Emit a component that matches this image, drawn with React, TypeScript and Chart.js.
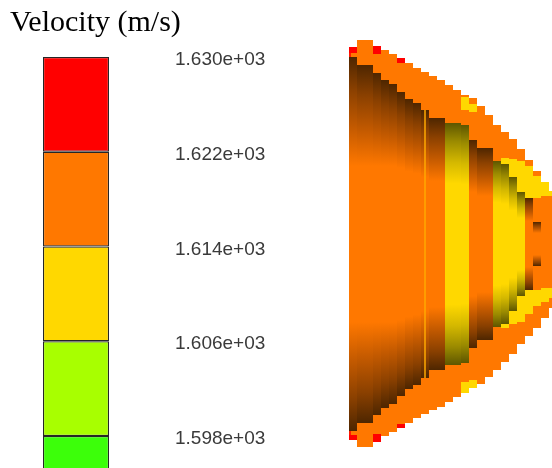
import React, { useEffect, useRef } from 'react';
import { Chart, registerables } from 'chart.js';

Chart.register(...registerables);

// ---------- Legend (colour bar) ----------
const legendTitle = 'Velocity (m/s)';
const levelValues = [1598, 1606, 1614, 1622, 1630];
const levelLabels = ['1.598e+03', '1.606e+03', '1.614e+03', '1.622e+03', '1.630e+03'];
const bandRanges: [number, number][] = [
  [1590, 1598],
  [1598, 1606],
  [1606, 1614],
  [1614, 1622],
  [1622, 1630],
];
const bandColors = ['#3cff0a', '#a8ff00', '#ffd800', '#ff7800', '#ff0000'];
const scaleMin = 1595.3;
const scaleMax = 1630;

// ---------- Contour (dome) : one entry per mesh column, half-heights from the axis ----------
const outerTop = [197, 204, 204, 198, 194, 190, 186, 181, 176, 172, 168, 164, 159, 154, 149, 146, 138, 129, 119, 112, 105, 95, 84, 73, 62, 53];
const outerBottom = [196, 203, 203, 198, 192, 188, 184, 179, 174, 170, 166, 163, 158, 153, 148, 144, 140, 133, 126, 118, 110, 100, 92, 84, 74, 64];
const coreHalf: (number | null)[] = [187, 179, 179, 171, 164, 160, 152, 145, 141, 134, 126, 126, 121, 121, 119, 104, 96, 96, 83, 80, 67, 52, 46, 22, null, null];
const coreKind = ['o', 'o', 'o', 'o', 'o', 'o', 'o', 'o', 'o', 'o', 'o', 'o', 'y', 'y', 'y', 'o', 'o', 'o', 'y', 'y', 'y', 'y', 'o', 'o', '', ''];
const yellowTop: ([number, number] | null)[] = [
  null, null, null, null, null, null, null, null, null, null, null, null, null, null,
  [134, 147], [132, 140], null, null, null, [80, 86], [67, 85], [52, 83], [46, 78], [46, 68], [48, 62], [48, 53],
];
const yellowBottom: ([number, number] | null)[] = [
  null, null, null, null, null, null, null, null, null, null, null, null, null, null,
  [-149, -138], [-144, -136], null, null, null, [-84, -80], [-80, -67], [-78, -52], [-70, -46], [-62, -46], [-58, -44], [-54, -44],
];
const redTop: ([number, number] | null)[] = [
  [191, 197], null, null, [190, 198], null, null, [181, 186], null, null, null, null, null, null,
  null, null, null, null, null, null, null, null, null, null, null, null, null,
];
const redBottom: ([number, number] | null)[] = [
  [-196, -191], null, null, [-198, -190], null, null, [-184, -180], null, null, null, null, null, null,
  null, null, null, null, null, null, null, null, null, null, null, null, null,
];
const seamColumn = 9;

const ORANGE = '#ff7800';
const orangeShade = ['#4e2600', '#8a4000', '#c45a00', ORANGE];
const yellowShade = ['#5e5600', '#9a8a00', '#d4b800', '#ffd800'];

export default function App() {
  const legendRef = useRef<HTMLCanvasElement>(null);
  const domeRef = useRef<HTMLCanvasElement>(null);

  useEffect(() => {
    const legendChart = new Chart(legendRef.current!, {
      type: 'bar',
      data: {
        labels: [''],
        datasets: bandRanges.map((r, i) => ({
          label: levelLabels[i],
          data: [r],
          backgroundColor: bandColors[i],
          borderColor: '#262626',
          borderWidth: 1.2,
          borderSkipped: false,
          barThickness: 66,
          inflateAmount: 0,
        })) as any,
      },
      options: {
        animation: false,
        responsive: false,
        events: [],
        layout: { padding: { left: 10, top: 0, right: 0, bottom: 0 } },
        plugins: {
          legend: { display: false },
          tooltip: { enabled: false },
          title: {
            display: true,
            text: legendTitle,
            align: 'start',
            color: '#000',
            font: { family: 'Liberation Serif', size: 30, weight: 'normal', lineHeight: 1.2 },
            padding: { top: 5, bottom: 16 },
          },
        },
        scales: {
          x: { display: false, stacked: true },
          y: {
            type: 'linear',
            position: 'right',
            min: scaleMin,
            max: scaleMax,
            grid: { display: false, drawTicks: false },
            border: { display: false },
            afterBuildTicks: (s: any) => {
              s.ticks = levelValues.map((v) => ({ value: v }));
            },
            afterFit: (s: any) => {
              s.width = 158;
              s.paddingTop = 0;
              s.paddingBottom = 0;
            },
            ticks: {
              autoSkip: false,
              padding: 33,
              labelOffset: 3,
              color: '#3a3a3a',
              font: { family: 'Liberation Sans', size: 19 },
              callback: (_v: any, i: number) => levelLabels[i],
            },
          },
        },
      } as any,
    });

    const shade = (ctx: any) => {
      const i = ctx.dataIndex;
      const h = coreHalf[i];
      const pal = coreKind[i] === 'y' ? yellowShade : orangeShade;
      const chart = ctx.chart;
      const y = chart.scales && chart.scales.y;
      if (h == null || !y || !chart.chartArea) return pal[3];
      const top = y.getPixelForValue(h);
      const bottom = y.getPixelForValue(-h);
      const g = chart.ctx.createLinearGradient(0, top, 0, bottom);
      const fadeEnd = Math.min(78, h * 0.5);
      const f = Math.min(0.5, (h - fadeEnd) / (2 * h));
      g.addColorStop(0, pal[0]);
      g.addColorStop(f * 0.3, pal[1]);
      g.addColorStop(f * 0.65, pal[2]);
      g.addColorStop(f, pal[3]);
      g.addColorStop(1 - f, pal[3]);
      g.addColorStop(1 - f * 0.65, pal[2]);
      g.addColorStop(1 - f * 0.3, pal[1]);
      g.addColorStop(1, pal[0]);
      return g;
    };

    const common = { barPercentage: 1, categoryPercentage: 1, inflateAmount: 0, borderWidth: 0 };

    const domeChart = new Chart(domeRef.current!, {
      type: 'bar',
      data: {
        labels: outerTop.map((_, i) => String(i)),
        datasets: [
          {
            label: 'outer',
            order: 4,
            data: outerTop.map((t, i) => [-outerBottom[i], t]),
            backgroundColor: ORANGE,
            ...common,
            borderColor: '#ff1a00',
            borderWidth: (ctx: any) => (ctx.dataIndex === 0 ? { left: 2, top: 0, right: 0, bottom: 0 } : 0),
          },
          { label: 'yellowTop', order: 3, data: yellowTop, backgroundColor: '#ffd800', ...common },
          { label: 'yellowBottom', order: 3, data: yellowBottom, backgroundColor: '#ffd800', ...common },
          { label: 'redTop', order: 3, data: redTop, backgroundColor: '#ff0000', ...common },
          { label: 'redBottom', order: 3, data: redBottom, backgroundColor: '#ff0000', ...common },
          {
            label: 'core',
            order: 2,
            data: coreHalf.map((h) => (h == null ? null : [-h, h])),
            backgroundColor: shade,
            ...common,
          },
          {
            label: 'seam',
            order: 1,
            data: coreHalf.map((h, i) => (i === seamColumn && h != null ? [-h, h] : null)),
            backgroundColor: '#ffa800',
            ...common,
            barThickness: 1.5,
          },
        ] as any,
      },
      options: {
        animation: false,
        responsive: false,
        events: [],
        layout: { padding: 0 },
        plugins: {
          legend: { display: false },
          tooltip: { enabled: false },
          title: { display: false },
        },
        scales: {
          x: { type: 'category', display: false, stacked: true, offset: true },
          y: { type: 'linear', display: false, min: -224, max: 244 },
        },
      } as any,
    });

    return () => {
      legendChart.destroy();
      domeChart.destroy();
    };
  }, []);

  return (
    <div
      style={{
        position: 'absolute',
        left: 0,
        top: 0,
        width: 552,
        height: 468,
        overflow: 'hidden',
        background: '#ffffff',
      }}
    >
      <canvas ref={legendRef} width={300} height={468} style={{ position: 'absolute', left: 0, top: 0 }} />
      <canvas ref={domeRef} width={208} height={468} style={{ position: 'absolute', left: 349, top: 0 }} />
    </div>
  );
}
